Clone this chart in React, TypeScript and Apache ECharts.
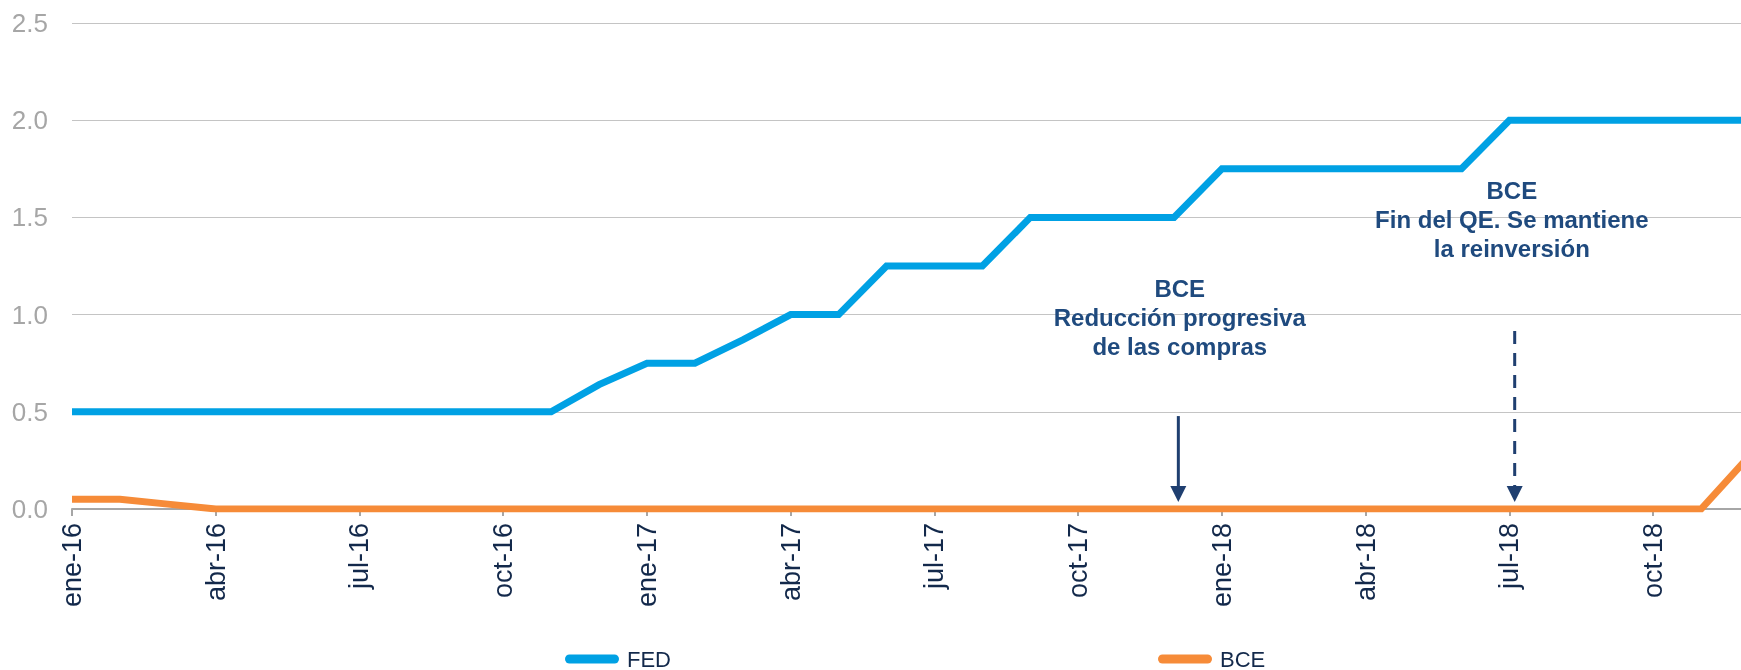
import React, { useEffect, useRef } from 'react';
import * as echarts from 'echarts';

const categories = [
  'ene-16', 'feb-16', 'mar-16', 'abr-16', 'may-16', 'jun-16', 'jul-16', 'ago-16', 'sep-16', 'oct-16', 'nov-16', 'dic-16',
  'ene-17', 'feb-17', 'mar-17', 'abr-17', 'may-17', 'jun-17', 'jul-17', 'ago-17', 'sep-17', 'oct-17', 'nov-17', 'dic-17',
  'ene-18', 'feb-18', 'mar-18', 'abr-18', 'may-18', 'jun-18', 'jul-18', 'ago-18', 'sep-18', 'oct-18', 'nov-18', 'dic-18',
];

const fedValues = [
  0.5, 0.5, 0.5, 0.5, 0.5, 0.5, 0.5, 0.5, 0.5, 0.5, 0.5, 0.64,
  0.75, 0.75, 0.87, 1.0, 1.0, 1.25, 1.25, 1.25, 1.5, 1.5, 1.5, 1.5,
  1.75, 1.75, 1.75, 1.75, 1.75, 1.75, 2.0, 2.0, 2.0, 2.0, 2.0, 2.0,
];

const bceValues = [
  0.05, 0.05, 0.025, 0, 0, 0, 0, 0, 0, 0, 0, 0,
  0, 0, 0, 0, 0, 0, 0, 0, 0, 0, 0, 0,
  0, 0, 0, 0, 0, 0, 0, 0, 0, 0, 0, 0.27,
];

const yTicks = { min: 0, max: 2.5, interval: 0.5 };

const annotations = [
  { text: 'BCE\nReducción progresiva\nde las compras', index: 23.12, topValue: 1.21, arrowIndex: 23.09, arrowFrom: 0.478, arrowTo: 0.036, dashed: false },
  { text: 'BCE\nFin del QE. Se mantiene\nla reinversión', index: 30.05, topValue: 1.715, arrowIndex: 30.11, arrowFrom: 0.916, arrowTo: 0.036, dashed: true },
];

const FED_COLOR = '#00A1E4';
const BCE_COLOR = '#F68B38';
const NAVY_TEXT = '#1F4A7E';
const ARROW_COLOR = '#1F3F70';
const FONT = 'Arial, "Liberation Sans", Helvetica, sans-serif';
const LEGEND_ICON = 'path://M5,0 L55,0 A5,5 0 0 1 55,10 L5,10 A5,5 0 0 1 5,0 Z';

export default function App() {
  const ref = useRef<HTMLDivElement>(null);

  useEffect(() => {
    if (!ref.current) return;
    const chart = echarts.init(ref.current, null, { renderer: 'svg' });

    const legendCommon = {
      top: 648,
      padding: 0,
      icon: LEGEND_ICON,
      itemWidth: 60,
      itemHeight: 9,
      textStyle: { color: '#13294B', fontSize: 22, fontFamily: FONT },
      selectedMode: false,
    };

    const option: any = {
      animation: false,
      grid: { left: 72, top: 23, width: 1677, height: 486, containLabel: false, outerBoundsMode: 'none' },
      xAxis: {
        type: 'category',
        data: categories,
        boundaryGap: false,
        axisLine: { show: true, lineStyle: { color: '#A6A6A6', width: 2 } },
        axisTick: { show: true, interval: 2, length: 7, lineStyle: { color: '#A6A6A6', width: 2 } },
        axisLabel: {
          interval: 2,
          rotate: 90,
          margin: 14,
          color: '#13294B',
          fontSize: 27,
          fontFamily: FONT,
        },
        splitLine: { show: false },
      },
      yAxis: {
        type: 'value',
        min: yTicks.min,
        max: yTicks.max,
        interval: yTicks.interval,
        axisLine: { show: false },
        axisTick: { show: false },
        axisLabel: {
          margin: 24,
          color: '#A6A6A6',
          fontSize: 26,
          fontFamily: FONT,
          formatter: (v: number) => v.toFixed(1),
        },
        splitLine: { show: true, lineStyle: { color: '#C4C4C4', width: 1 } },
      },
      legend: [
        { ...legendCommon, left: 565, data: [{ name: 'FED', itemStyle: { color: FED_COLOR, borderWidth: 0 } }] },
        { ...legendCommon, left: 1158, data: [{ name: 'BCE', itemStyle: { color: BCE_COLOR, borderWidth: 0 } }] },
      ],
      series: [
        {
          name: 'FED',
          type: 'line',
          data: fedValues,
          symbol: 'none',
          showSymbol: false,
          lineStyle: { color: FED_COLOR, width: 7, join: 'miter' },
          itemStyle: { color: FED_COLOR },
          z: 3,
        },
        {
          name: 'BCE',
          type: 'line',
          data: bceValues,
          symbol: 'none',
          showSymbol: false,
          lineStyle: { color: BCE_COLOR, width: 7, join: 'miter' },
          itemStyle: { color: BCE_COLOR },
          z: 4,
        },
      ],
    };

    chart.setOption(option);

    const xAt = (idx: number) => {
      const i0 = Math.floor(idx);
      const f = idx - i0;
      const p0 = chart.convertToPixel({ gridIndex: 0 }, [i0, 0]) as number[];
      const p1 = chart.convertToPixel({ gridIndex: 0 }, [i0 + 1, 0]) as number[];
      return p0[0] + (p1[0] - p0[0]) * f;
    };
    const yAt = (v: number) => (chart.convertToPixel({ gridIndex: 0 }, [0, v]) as number[])[1];

    const graphics: any[] = [];
    annotations.forEach((a) => {
      graphics.push({
        type: 'text',
        z: 100,
        style: {
          text: a.text,
          x: xAt(a.index),
          y: yAt(a.topValue),
          align: 'center',
          verticalAlign: 'top',
          fontSize: 24,
          fontWeight: 'bold',
          fontFamily: FONT,
          lineHeight: 29,
          fill: NAVY_TEXT,
        },
      });
      const ax = xAt(a.arrowIndex);
      const yTop = yAt(a.arrowFrom);
      const yTip = yAt(a.arrowTo);
      graphics.push({
        type: 'line',
        z: 100,
        shape: { x1: ax, y1: yTop, x2: ax, y2: yTip - 12 },
        style: {
          stroke: ARROW_COLOR,
          lineWidth: 3,
          lineDash: a.dashed ? [13, 9] : null,
        },
      });
      graphics.push({
        type: 'polygon',
        z: 100,
        shape: { points: [[ax - 8, yTip - 16], [ax + 8, yTip - 16], [ax, yTip]] },
        style: { fill: ARROW_COLOR },
      });
    });

    chart.setOption({ graphic: graphics });

    return () => {
      chart.dispose();
    };
  }, []);

  return (
    <div
      ref={ref}
      style={{ position: 'fixed', left: 0, top: 0, width: 1741, height: 670 }}
    />
  );
}
